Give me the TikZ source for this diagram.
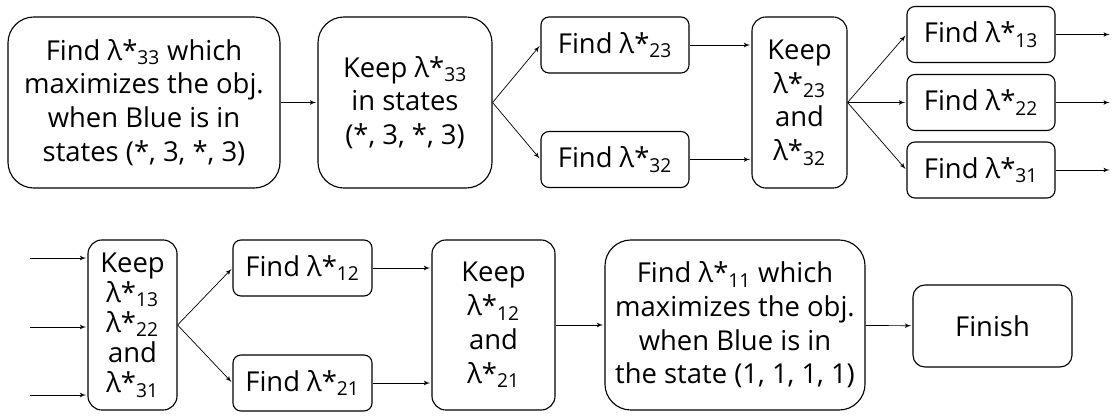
\documentclass[tikz,border=0pt]{standalone}
\usepackage{fontspec}
\setmainfont{Open Sans}
\usepackage{tikz}
\usetikzlibrary{arrows}

\newcommand{\lamst}[1]{λ*\textsubscript{#1}}

\begin{document}
\begin{tikzpicture}[x=0.025cm,y=-0.025cm,->,>=latex',shorten >=1pt,
  line width=0.5pt,
  box/.style={draw,solid,line width=0.8pt,align=center,inner sep=1pt,
    font=\fontsize{19.5}{24}\selectfont},
  bigbox/.style={box,rounded corners=0.65cm,minimum height=4.275cm},
  keepbox/.style={box,rounded corners=0.35cm,minimum height=4.275cm},
  findbox/.style={box,rounded corners=0.2cm,minimum width=3.7cm,minimum height=1.4cm},
  endbox/.style={box,rounded corners=0.3cm,minimum width=3.975cm,minimum height=2.05cm}]

\useasboundingbox (0,0) rectangle (1113,415);

% top row
\node[bigbox,minimum width=6.8cm] (obj33) at (144,102.5)
  {Find \lamst{33} which\\maximizes the obj.\\when Blue is in\\states (*, 3, *, 3)};
\node[bigbox,minimum width=4.35cm] (keep33) at (405,102.5)
  {Keep \lamst{33}\\in states\\(*, 3, *, 3)};
\node[findbox] (find23) at (615,45) {Find \lamst{23}};
\node[findbox] (find32) at (615,159.5) {Find \lamst{32}};
\node[keepbox,minimum width=2.375cm] (keep23) at (799.5,102.5)
  {Keep\\\lamst{23}\\and\\\lamst{32}};
\node[findbox] (find13) at (981,34.5) {Find \lamst{13}};
\node[findbox] (find22) at (981,102.5) {Find \lamst{22}};
\node[findbox] (find31) at (981,170) {Find \lamst{31}};
\coordinate (rim) at (1111,0);

% bottom row
\coordinate (in13) at (30,258);
\coordinate (in22) at (30,327);
\coordinate (in31) at (30,395);
\node[keepbox,minimum width=2.225cm,minimum height=4.25cm,
  font=\fontsize{19.5}{21.5}\selectfont] (keep13) at (132.5,325)
  {Keep\\\lamst{13}\\\lamst{22}\\and\\\lamst{31}};
\node[findbox,minimum width=3.475cm] (find12) at (302.5,268) {Find \lamst{12}};
\node[findbox,minimum width=3.475cm] (find21) at (302.5,383) {Find \lamst{21}};
\node[keepbox,minimum width=3.075cm,minimum height=4.25cm] (keep12) at (493.5,325)
  {Keep\\\lamst{12}\\and\\\lamst{21}};
\node[bigbox,minimum width=6.5cm,minimum height=4.25cm] (obj11) at (735,325)
  {Find \lamst{11} which\\maximizes the obj.\\when Blue is in\\the state (1, 1, 1, 1)};
\node[endbox] (finish) at (992.5,326) {Finish};

\path (obj33) edge (keep33)
  (keep33.east) edge (find23.west)
  (keep33.east) edge (find32.west)
  (find23.east) edge (find23.east -| keep23.west)
  (find32.east) edge (find32.east -| keep23.west)
  (keep23.east) edge (find13.west)
  (keep23.east) edge (find22.west)
  (keep23.east) edge (find31.west)
  (find13.east) edge (find13.east -| rim)
  (find22.east) edge (find22.east -| rim)
  (find31.east) edge (find31.east -| rim);

\path (in13) edge (in13 -| keep13.west)
  (in22) edge (in22 -| keep13.west)
  (in31) edge (in31 -| keep13.west)
  (keep13.east) edge (find12.west)
  (keep13.east) edge (find21.west)
  (find12.east) edge (find12.east -| keep12.west)
  (find21.east) edge (find21.east -| keep12.west)
  (keep12) edge (obj11)
  (obj11) edge (finish);

\end{tikzpicture}
\end{document}
